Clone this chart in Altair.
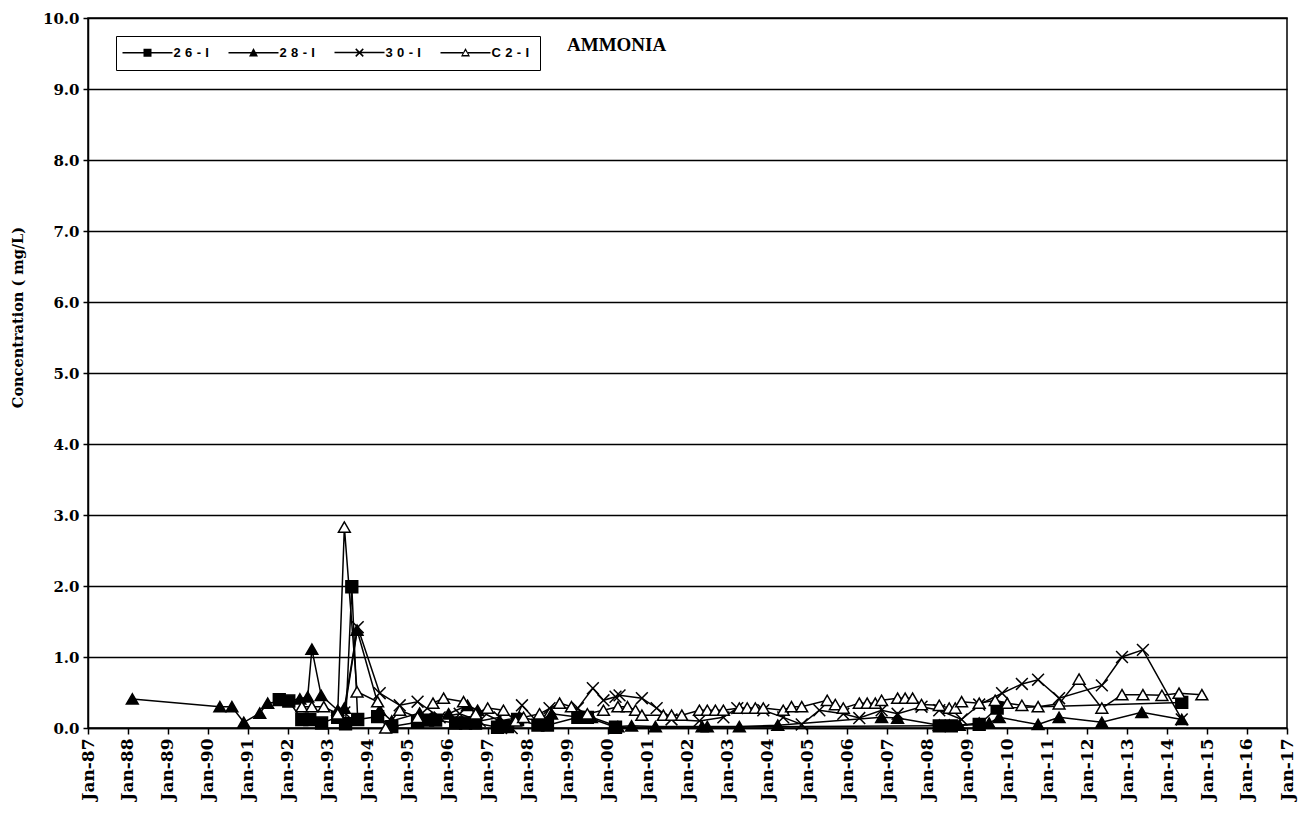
import altair as alt
import pandas as pd

series_names = ["26-I", "28-I", "30-I", "C2-I"]

dates_26 = ["1991-10-15", "1992-01-10", "1992-05-08", "1992-07-20", "1992-11-05", "1993-04-01",
            "1993-06-12", "1993-08-08", "1993-10-01", "1994-04-01", "1994-08-08", "1995-04-01",
            "1995-07-01", "1995-09-13", "1996-03-14", "1996-06-13", "1996-09-12", "1997-04-01",
            "1997-07-01", "1997-10-01", "1998-04-05", "1998-07-01", "1999-04-05", "1999-07-01",
            "2000-03-14", "2008-04-20", "2008-08-08", "2009-04-20", "2009-10-01", "2014-05-15"]
vals_26 = [0.40, 0.38, 0.12, 0.12, 0.07, 0.15,
           0.06, 1.99, 0.12, 0.16, 0.02, 0.08,
           0.11, 0.11, 0.07, 0.07, 0.07, 0.01,
           0.02, 0.12, 0.04, 0.04, 0.15, 0.15,
           0.01, 0.03, 0.03, 0.05, 0.28, 0.36]

dates_28 = ["1988-02-10", "1990-04-20", "1990-08-08", "1990-11-25", "1991-04-20", "1991-07-01",
            "1992-04-20", "1992-07-01", "1992-08-08", "1992-11-01", "1993-04-01", "1993-06-01",
            "1993-09-25", "1994-04-20", "1994-08-08", "1995-04-20", "1995-08-08", "1996-01-10",
            "1996-07-01", "1996-10-01", "1997-04-20", "1997-10-20", "1998-04-20", "1998-08-08",
            "1999-04-20", "1999-08-08", "2000-04-05", "2000-08-08", "2001-03-14", "2002-05-15",
            "2002-07-01", "2003-04-20", "2004-04-05", "2006-11-10", "2007-04-05", "2008-04-20",
            "2008-07-20", "2008-10-20", "2009-04-20", "2009-07-20", "2009-10-20", "2010-10-10",
            "2011-04-20", "2012-05-15", "2013-05-15", "2014-05-15"]
vals_28 = [0.41, 0.30, 0.30, 0.08, 0.21, 0.35,
           0.41, 0.44, 1.11, 0.46, 0.25, 0.28,
           1.38, 0.25, 0.10, 0.21, 0.15, 0.20,
           0.32, 0.25, 0.10, 0.15, 0.10, 0.20,
           0.15, 0.15, 0.02, 0.03, 0.02, 0.02,
           0.02, 0.02, 0.04, 0.15, 0.14, 0.04,
           0.04, 0.04, 0.07, 0.07, 0.15, 0.05,
           0.15, 0.08, 0.22, 0.12]

dates_30 = ["1993-06-01", "1993-10-01", "1994-04-20", "1994-10-20", "1995-04-01", "1995-10-20",
            "1996-04-20", "1996-10-20", "1997-04-20", "1997-08-08", "1997-11-10", "1998-04-20",
            "1998-07-20", "1999-04-05", "1999-08-20", "1999-11-25", "2000-03-14", "2000-04-20",
            "2000-11-10", "2001-03-25", "2001-08-08", "2002-04-20", "2002-11-25", "2003-04-01",
            "2003-11-25", "2004-05-25", "2004-11-10", "2005-04-20", "2005-11-25", "2006-04-20",
            "2006-11-10", "2007-04-05", "2007-11-10", "2008-04-20", "2008-11-10", "2009-04-20",
            "2009-11-15", "2010-05-15", "2010-10-10", "2011-04-20", "2012-05-15", "2012-11-15",
            "2013-05-25", "2014-05-15"]
vals_30 = [0.22, 1.42, 0.49, 0.32, 0.37, 0.15,
           0.20, 0.10, 0.15, 0.00, 0.32, 0.05,
           0.28, 0.28, 0.56, 0.39, 0.44, 0.46,
           0.42, 0.28, 0.12, 0.10, 0.15, 0.28,
           0.25, 0.15, 0.05, 0.25, 0.20, 0.14,
           0.25, 0.20, 0.30, 0.25, 0.12, 0.33,
           0.49, 0.62, 0.68, 0.42, 0.60, 1.00,
           1.10, 0.12]

dates_c2 = ["1992-05-08", "1992-08-08", "1992-11-25", "1993-04-01", "1993-06-01", "1993-09-25",
            "1994-04-01", "1994-06-13", "1994-10-20", "1995-04-01", "1995-08-20", "1995-11-25",
            "1996-05-25", "1996-09-13", "1997-01-01", "1997-05-25", "1997-09-13", "1997-11-25",
            "1998-04-20", "1998-10-20", "1999-02-05", "1999-07-01", "1999-11-25", "2000-04-05",
            "2000-07-01", "2000-09-13", "2000-11-10", "2001-05-25", "2001-08-08", "2001-11-10",
            "2002-04-20", "2002-07-01", "2002-09-13", "2002-11-25", "2003-04-20", "2003-07-01",
            "2003-09-13", "2003-11-25", "2004-05-25", "2004-08-08", "2004-11-10", "2005-07-01",
            "2005-09-13", "2005-11-25", "2006-04-20", "2006-07-01", "2006-09-13", "2006-11-10",
            "2007-04-05", "2007-06-13", "2007-08-20", "2007-11-10", "2008-04-20", "2008-07-20",
            "2008-09-13", "2008-11-10", "2009-04-20", "2009-09-13", "2010-01-01", "2010-05-15",
            "2010-10-10", "2011-04-20", "2011-10-20", "2012-05-15", "2012-11-15", "2013-05-25",
            "2013-11-15", "2014-04-20", "2014-11-15"]
vals_c2 = [0.30, 0.30, 0.30, 0.20, 2.83, 0.51,
           0.37, 0.00, 0.25, 0.15, 0.35, 0.42,
           0.37, 0.20, 0.28, 0.25, 0.10, 0.15,
           0.20, 0.35, 0.30, 0.20, 0.25, 0.30,
           0.30, 0.25, 0.18, 0.18, 0.18, 0.18,
           0.25, 0.25, 0.25, 0.25, 0.28, 0.28,
           0.28, 0.28, 0.25, 0.30, 0.30, 0.39,
           0.33, 0.28, 0.35, 0.35, 0.35, 0.39,
           0.42, 0.42, 0.42, 0.33, 0.32, 0.28,
           0.28, 0.37, 0.35, 0.39, 0.35, 0.32,
           0.30, 0.34, 0.69, 0.28, 0.47, 0.47,
           0.46, 0.49, 0.47]

year_ticks = list(range(1987, 2018))
y_ticks = list(range(0, 11))

rows = []
for name, ds, vs in [("26-I", dates_26, vals_26), ("28-I", dates_28, vals_28),
                     ("30-I", dates_30, vals_30), ("C2-I", dates_c2, vals_c2)]:
    for d, v in zip(ds, vs):
        rows.append({"well": name, "date": d, "conc": v})
df = pd.DataFrame(rows)

SERIF = "DejaVu Serif"

x_enc = alt.X(
    "date:T",
    title=None,
    scale=alt.Scale(type="utc",
                    domain=[alt.DateTime(year=1987, month=1, date=1, utc=True),
                            alt.DateTime(year=2017, month=1, date=1, utc=True)]),
    axis=alt.Axis(values=[alt.DateTime(year=y, month=1, date=1, utc=True) for y in year_ticks],
                  format="%b-%y", labelAngle=-90, labelFont=SERIF, labelFontWeight="bold",
                  labelFontSize=17, labelColor="black", labelPadding=4, tickSize=6,
                  tickColor="black", tickWidth=1.5, domainColor="black", domainWidth=1.5,
                  grid=False, labelOverlap=False, labelFlush=False),
)
y_enc = alt.Y(
    "conc:Q",
    scale=alt.Scale(domain=[0, 10], nice=False, zero=True),
    axis=alt.Axis(values=y_ticks, format=".1f", title="Concentration ( mg/L)",
                  titleFont=SERIF, titleFontWeight="bold", titleFontSize=14.5, titleColor="black",
                  titleX=-70, titleY=299, titleAngle=-90, titleBaseline="middle", titleAlign="center",
                  labelFont=SERIF, labelFontWeight="bold", labelFontSize=15, labelColor="black",
                  labelPadding=4, tickSize=5, tickColor="black", tickWidth=1.5,
                  domainColor="black", domainWidth=1.5, gridColor="black", gridWidth=1.5,
                  labelOverlap=False, labelFlush=False),
)

point_shapes = ["square", "triangle-up", "M-1,-1L1,1M-1,1L1,-1", "triangle-up"]
point_fills = ["black", "black", "black", "white"]

# legend glyphs drawn as filled outlines only (line segment + marker), unit = 5px
legend_shapes = [
    "M-5,-0.15H5V0.15H-5Z M-0.8,-0.8H0.8V0.8H-0.8Z",
    "M-5,-0.15H5V0.15H-5Z M0,-0.95L0.9,0.75H-0.9Z",
    "M-5,-0.15H5V0.15H-5Z "
    "M-0.644,-0.856L0.856,0.644L0.644,0.856L-0.856,-0.644Z "
    "M0.644,-0.856L0.856,-0.644L-0.644,0.856L-0.856,0.644Z",
    "M-5,-0.15H-0.5V0.15H-5Z M0.5,-0.15H5V0.15H0.5Z "
    "M0,-0.95L0.9,0.75H-0.9Z M0,-0.42L-0.52,0.45H0.52Z",
]

lines = alt.Chart(df).mark_line(color="black", strokeWidth=1.5).encode(
    x=x_enc, y=y_enc, detail="well:N"
)

points = alt.Chart(df).mark_point(filled=True, size=140, stroke="black", strokeWidth=1.5,
                                  opacity=1).encode(
    x=x_enc, y=y_enc,
    shape=alt.Shape("well:N", scale=alt.Scale(domain=series_names, range=point_shapes), legend=None),
    fill=alt.Fill("well:N", scale=alt.Scale(domain=series_names, range=point_fills), legend=None),
)

legend_layer = alt.Chart(df).transform_calculate(
    legend_well="datum.well"
).transform_filter("datum.conc < -1").mark_point(
    filled=False, color="black", strokeWidth=1.5, opacity=1
).encode(
    x=x_enc, y=y_enc,
    fill=alt.value("black"),
    shape=alt.Shape(
        "legend_well:N",
        scale=alt.Scale(domain=series_names, range=legend_shapes),
        legend=alt.Legend(
            orient="none", legendX=28, legendY=18, direction="horizontal", title=None,
            symbolSize=100, symbolStrokeWidth=1.5, symbolFillColor="black",
            symbolStrokeColor="black", symbolOffset=15, labelOffset=19.5,
            labelFont="Liberation Sans", labelFontWeight="bold", labelFontSize=13,
            labelColor="black", labelExpr="join(split(datum.label, ''), '\u2004')",
            strokeColor="black", fillColor="white", padding=10, columnPadding=16,
        ),
    ),
)

label_df = pd.DataFrame({"t": ["AMMONIA"]})
title_text = alt.Chart(label_df).mark_text(
    font="Liberation Serif", fontWeight="bold", fontSize=19, align="left",
    baseline="middle", color="black"
).encode(x=alt.value(479), y=alt.value(27), text="t:N")

chart = alt.layer(lines, points, legend_layer, title_text).resolve_scale(
    shape="independent", fill="independent"
).properties(
    width=1199, height=710,
    autosize=alt.AutoSizeParams(type="none"),
    padding={"left": 80, "top": 10, "right": 12, "bottom": 81},
    background="white",
).configure_view(stroke="black", strokeWidth=1.5)

chart.save("out.html", embed_options={"renderer": "svg", "actions": False})
